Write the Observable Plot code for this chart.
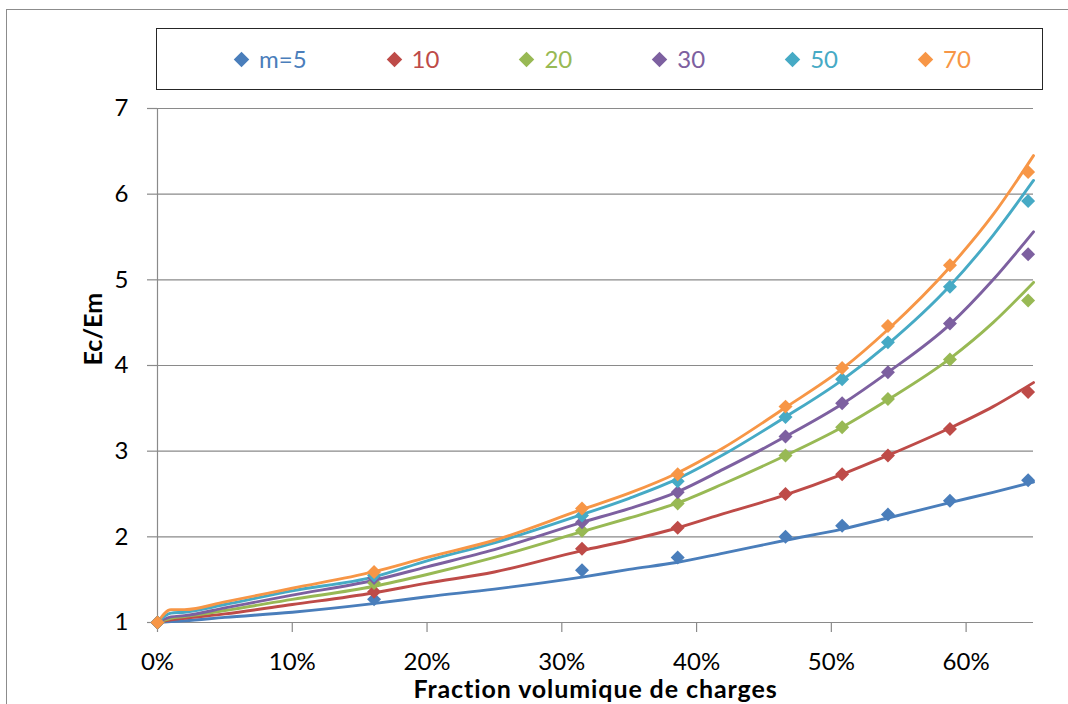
<!DOCTYPE html>
<html>
<head>
<meta charset="utf-8">
<script src="https://cdn.jsdelivr.net/npm/d3@7"></script>
<script src="https://cdn.jsdelivr.net/npm/@observablehq/plot@0.6"></script>
<style>
  html, body { margin: 0; padding: 0; background: #fff; }
  body { font-family: Lato, "Open Sans", sans-serif; }
  #wrap { position: relative; width: 1068px; height: 704px; overflow: hidden; background: #fff; }
  #frame { position: absolute; left: 6px; top: 9px; width: 1200px; height: 900px; border: 1px solid #8c8c8c; box-sizing: border-box; }
  #chart { position: absolute; left: 0; top: 0; }
  #legend { position: absolute; left: 156px; top: 28px; width: 887px; height: 62px; border: 1.5px solid #262626; box-sizing: border-box; background: #fff;
            display: flex; align-items: center; padding-left: 77px; gap: 80px; font-size: 24px; }
  .item { display: flex; align-items: center; gap: 10px; line-height: 1; }
  .sw { width: 11px; height: 11px; transform: rotate(45deg); flex: none; margin: 0 2px; }
</style>
</head>
<body>
<div id="wrap">
  <div id="frame"></div>
  <div id="chart"></div>
  <div id="legend"></div>
</div>
<script>
// ---- Data ----
const series = ["m=5", "10", "20", "30", "50", "70"];
const colors = ["#4A7EBB", "#BE4B48", "#98B954", "#7D60A0", "#46AAC5", "#F79646"];

// model curves (lines)
const xLine   = [0, 0.01, 0.02, 0.05, 0.10, 0.16, 0.20, 0.25, 0.315, 0.35, 0.385, 0.42, 0.466, 0.508, 0.542, 0.588, 0.62, 0.65];
const lineM5  = [1, 1.01, 1.02, 1.06, 1.12, 1.22, 1.30, 1.39, 1.53, 1.62, 1.70, 1.81, 1.96, 2.09, 2.22, 2.40, 2.52, 2.64];
const lineM10 = [1, 1.03, 1.05, 1.10, 1.21, 1.345, 1.46, 1.59, 1.84, 1.96, 2.10, 2.27, 2.49, 2.73, 2.95, 3.27, 3.52, 3.80];
const lineM20 = [1, 1.05, 1.07, 1.14, 1.27, 1.42, 1.56, 1.76, 2.06, 2.22, 2.39, 2.62, 2.95, 3.28, 3.60, 4.08, 4.50, 4.97];
const lineM30 = [1, 1.065, 1.08, 1.17, 1.32, 1.49, 1.65, 1.85, 2.17, 2.33, 2.52, 2.79, 3.17, 3.55, 3.92, 4.48, 5.00, 5.56];
const lineM50 = [1, 1.11, 1.12, 1.21, 1.37, 1.53, 1.72, 1.93, 2.26, 2.45, 2.67, 2.96, 3.40, 3.83, 4.25, 4.93, 5.52, 6.16];
const lineM70 = [1, 1.15, 1.15, 1.24, 1.40, 1.59, 1.76, 1.96, 2.32, 2.51, 2.74, 3.04, 3.51, 3.96, 4.42, 5.15, 5.76, 6.45];

// measured points (diamonds)
const xMark   = [0, 0.1607, 0.315, 0.386, 0.466, 0.508, 0.542, 0.588, 0.646];
const markM5  = [1, 1.27, 1.61, 1.76, 2.00, 2.13, 2.26, 2.42, 2.66];
const markM10 = [1, 1.36, 1.86, 2.105, 2.50, 2.73, 2.95, 3.26, 3.69];
const markM20 = [1, 1.46, 2.07, 2.39, 2.95, 3.28, 3.61, 4.07, 4.76];
const markM30 = [1, 1.52, 2.17, 2.52, 3.17, 3.56, 3.92, 4.49, 5.30];
const markM50 = [1, 1.55, 2.25, 2.65, 3.40, 3.84, 4.27, 4.92, 5.92];
const markM70 = [1, 1.59, 2.33, 2.73, 3.52, 3.97, 4.46, 5.17, 6.26];

const xTicks = [0, 0.1, 0.2, 0.3, 0.4, 0.5, 0.6];
const yTicks = [1, 2, 3, 4, 5, 6, 7];
const xTitle = "Fraction volumique de charges";
const yTitle = "Ec/Em";

// ---- Build tables ----
const lineVals = [lineM5, lineM10, lineM20, lineM30, lineM50, lineM70];
const markVals = [markM5, markM10, markM20, markM30, markM50, markM70];
const lineData = series.flatMap((s, i) => xLine.map((x, j) => ({s, x, y: lineVals[i][j]})));
const markData = series.flatMap((s, i) => xMark.map((x, j) => ({s, x, y: markVals[i][j]})));

const grid = "#8a8a8a";
const chart = Plot.plot({
  width: 1068,
  height: 704,
  marginLeft: 157,
  marginRight: 35,
  marginTop: 108,
  marginBottom: 82,
  style: {fontFamily: "Lato, 'Open Sans', sans-serif", fontSize: "24px", color: "#000", background: "transparent"},
  x: {domain: [0, 0.65]},
  y: {domain: [1, 7]},
  color: {domain: series, range: colors},
  marks: [
    Plot.gridY(yTicks.slice(1), {stroke: grid, strokeOpacity: 1, strokeWidth: 1.2}),
    Plot.ruleY([1], {stroke: grid, strokeWidth: 1.2}),
    Plot.ruleX([0], {stroke: grid, strokeWidth: 1.2}),
    Plot.axisX({ticks: xTicks, tickFormat: d => Math.round(d * 100) + "%", tickSize: 10, tickPadding: 20,
                stroke: grid, strokeWidth: 1.2, fill: "#000", fontSize: 24, label: null}),
    Plot.axisY({ticks: yTicks, tickFormat: d => String(d), tickSize: 10, tickPadding: 19,
                stroke: grid, strokeWidth: 1.2, fill: "#000", fontSize: 24, label: null}),
    Plot.line(lineData, {x: "x", y: "y", z: "s", stroke: "s", strokeWidth: 2.9, strokeLinejoin: "round", curve: "monotone-x"}),
    Plot.dot(markData, {x: "x", y: "y", fill: "s", symbol: "diamond2", r: 6.3, stroke: "none"}),
    Plot.text([xTitle], {text: d => d, frameAnchor: "bottom", dy: 75, lineAnchor: "bottom",
                         fontWeight: "bold", fontSize: 25, fill: "#000", className: "xtitle"}),
    Plot.text([yTitle], {text: d => d, frameAnchor: "left", dx: -64, rotate: -90,
                         fontWeight: "bold", fontSize: 25, fill: "#000", className: "ytitle"})
  ]
});
document.getElementById("chart").appendChild(chart);
chart.querySelectorAll(".xtitle text").forEach(t => t.setAttribute("letter-spacing", "0.9"));

// ---- Legend ----
const legend = document.getElementById("legend");
series.forEach((s, i) => {
  const item = document.createElement("div");
  item.className = "item";
  const sw = document.createElement("span");
  sw.className = "sw";
  sw.style.background = colors[i];
  const label = document.createElement("span");
  label.textContent = s;
  label.style.color = colors[i];
  item.appendChild(sw);
  item.appendChild(label);
  legend.appendChild(item);
});
</script>
</body>
</html>
